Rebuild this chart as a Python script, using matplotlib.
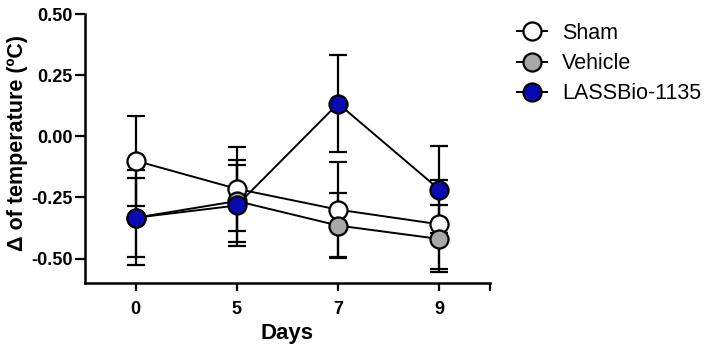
import matplotlib.pyplot as plt

plt.rcParams['font.family'] = ['Liberation Sans', 'DejaVu Sans']

days = ['0', '5', '7', '9']

sham_mean = [-0.10, -0.215, -0.30, -0.36]
sham_sem = [0.184, 0.171, 0.195, 0.182]

vehicle_mean = [-0.333, -0.265, -0.365, -0.42]
vehicle_sem = [0.194, 0.167, 0.133, 0.137]

lassbio_mean = [-0.333, -0.283, 0.134, -0.218]
lassbio_sem = [0.162, 0.167, 0.20, 0.177]

groups = [
    ('Sham', sham_mean, sham_sem, 'white'),
    ('Vehicle', vehicle_mean, vehicle_sem, '#a8a8a8'),
    ('LASSBio-1135', lassbio_mean, lassbio_sem, '#0a0ab4'),
]

fig = plt.figure(figsize=(7.16, 3.5), dpi=100)
ax = fig.add_axes([85 / 716, 1 - 283 / 350, 405 / 716, 269 / 350])

x = list(range(len(days)))
handles = []
for name, mean, sem, color in groups:
    c = ax.errorbar(x, mean, yerr=sem, color='black', lw=1.4,
                    elinewidth=1.6, capsize=6.5, capthick=1.6,
                    marker='o', markersize=13, markerfacecolor=color,
                    markeredgecolor='black', markeredgewidth=1.6,
                    label=name)
    handles.append(c[0])

ax.set_xlim(-0.5, 3.5)
ax.set_ylim(-0.6, 0.5)
ax.set_xticks(x)
ax.set_xticklabels(days)
ax.set_xticks([3.5], minor=True)
ax.set_yticks([-0.5, -0.25, 0.0, 0.25, 0.5])
ax.set_yticklabels(['-0.50', '-0.25', '0.00', '0.25', '0.50'])

for side in ['top', 'right']:
    ax.spines[side].set_visible(False)
for side in ['left', 'bottom']:
    ax.spines[side].set_linewidth(1.8)
ax.spines['left'].set_bounds(-0.6, 0.5)

ax.tick_params(axis='both', which='both', width=1.6, labelsize=13)
ax.tick_params(axis='y', length=7, pad=2)
ax.tick_params(axis='x', which='both', length=6, pad=7)
for lab in ax.get_xticklabels() + ax.get_yticklabels():
    lab.set_fontweight('bold')

ax.set_xlabel('Days', fontsize=16, fontweight='bold')
ax.set_ylabel('Δ of temperature (ºC)', fontsize=15.5, fontweight='bold')
ax.xaxis.set_label_coords(0.5, -0.15)
ax.yaxis.set_label_coords(-0.14, 0.52)

fig.legend(handles=handles, labels=[g[0] for g in groups],
           loc='upper left', bbox_to_anchor=(517 / 716, 1 - 23 / 350),
           frameon=False, fontsize=15.5, handlelength=1.4,
           handletextpad=0.7, labelspacing=0.42, borderpad=0,
           borderaxespad=0)

fig.savefig('out.png', dpi=100)
